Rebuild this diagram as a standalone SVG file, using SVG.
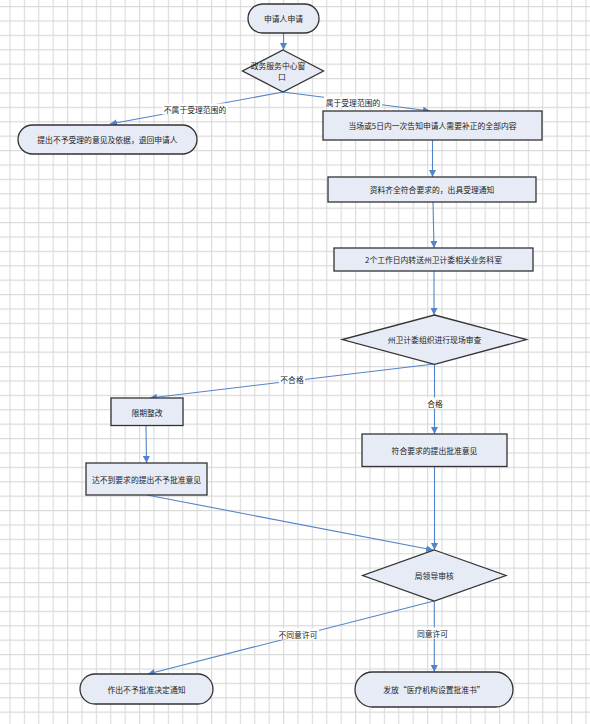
<svg xmlns="http://www.w3.org/2000/svg" width="590" height="724" viewBox="0 0 590 724">
<defs>
<pattern id="grid" patternUnits="userSpaceOnUse" x="9.4" y="6" width="14.4" height="14.4">
<path d="M0.6 0V14.4M0 0.6H14.4" stroke="#dadada" stroke-width="1.1" fill="none"/>
</pattern>
<marker id="arr" viewBox="0 0 10 10" refX="10" refY="5" markerWidth="7" markerHeight="7" markerUnits="userSpaceOnUse" orient="auto">
<path d="M0 0L10 5L0 10Z" fill="#5284c8"/>
</marker>
<style>
.n{fill:#e6ebf6;stroke:#333;stroke-width:1.3}
.t{font-family:"Noto Sans CJK SC","Noto Sans",sans-serif;font-size:7.8px;fill:#222;text-anchor:middle;dominant-baseline:central}
.c{fill:none;stroke:#5284c8;stroke-width:1.1;marker-end:url(#arr)}
.lb{fill:#fff}
</style>
</defs>
<rect width="590" height="724" fill="#fff"/>
<rect width="590" height="724" fill="url(#grid)"/>
<g id="connectors">
<path class="c" d="M283.5 33V50"/>
<path class="c" d="M283 92L110 124"/>
<path class="c" d="M283 92L430 111"/>
<path class="c" d="M432.5 140V177"/>
<path class="c" d="M433 202L434 248"/>
<path class="c" d="M434 271V315"/>
<path class="c" d="M434 364L150 398"/>
<path class="c" d="M434.5 364V434"/>
<path class="c" d="M146 426L146.5 463"/>
<path class="c" d="M147 495L433 550"/>
<path class="c" d="M434.5 467V550"/>
<path class="c" d="M434 601L148 674"/>
<path class="c" d="M434.3 601V672"/>
<rect class="lb" x="162" y="103.5" width="66" height="11"/>
<text class="t" x="195" y="109">不属于受理范围的</text>
<rect class="lb" x="324" y="96.5" width="58" height="11"/>
<text class="t" x="353" y="102">属于受理范围的</text>
<rect class="lb" x="279" y="374" width="26" height="11"/>
<text class="t" x="292" y="379.5">不合格</text>
<rect class="lb" x="426" y="397.5" width="18" height="11"/>
<text class="t" x="435" y="403">合格</text>
<rect class="lb" x="278" y="628.5" width="41" height="11"/>
<text class="t" x="298" y="634">不同意许可</text>
<rect class="lb" x="416" y="627.5" width="33" height="11"/>
<text class="t" x="432.5" y="633">同意许可</text>
</g>
<g id="start"><rect class="n" x="248" y="4" width="71" height="29" rx="14.5"/><text class="t" x="283.5" y="18.5">申请人申请</text></g>
<g id="window"><path class="n" d="M283 50L323.5 71L283 92L242.5 71Z"/><text class="t" x="278" y="65">政务服务中心窗</text><text class="t" x="282" y="76">口</text></g>
<g id="reject"><rect class="n" x="18" y="125" width="179" height="29" rx="14.5"/><text class="t" x="107.5" y="139.5">提出不予受理的意见及依据，退回申请人</text></g>
<g id="inform"><rect class="n" x="323" y="111" width="219" height="29"/><text class="t" x="432.5" y="125.5">当场或5日内一次告知申请人需要补正的全部内容</text></g>
<g id="accept"><rect class="n" x="328" y="177" width="208" height="25"/><text class="t" x="432" y="189.5">资料齐全符合要求的，出具受理通知</text></g>
<g id="transfer"><rect class="n" x="334" y="248" width="199" height="23"/><text class="t" x="433.5" y="259.5">2个工作日内转送州卫计委相关业务科室</text></g>
<g id="inspect"><path class="n" d="M434.5 315L526.5 339.6L434.5 364.3L342.3 339.6Z"/><text class="t" x="434.5" y="339.6">州卫计委组织进行现场审查</text></g>
<g id="rectify"><rect class="n" x="111" y="398" width="72" height="27.5"/><text class="t" x="147" y="412">限期整改</text></g>
<g id="notapprove"><rect class="n" x="86" y="463" width="121" height="32"/><text class="t" x="146.5" y="479">达不到要求的提出不予批准意见</text></g>
<g id="approve"><rect class="n" x="362" y="434" width="145" height="32.5"/><text class="t" x="434.5" y="450.5">符合要求的提出批准意见</text></g>
<g id="review"><path class="n" d="M434.3 550L506 575.5L434.3 601L362.7 575.5Z"/><text class="t" x="434.3" y="575.5">局领导审核</text></g>
<g id="denied"><rect class="n" x="80" y="674" width="133" height="30" rx="15"/><text class="t" x="146.5" y="689">作出不予批准决定通知</text></g>
<g id="issue"><rect class="n" x="355" y="672" width="158" height="35" rx="17.5"/><text class="t" x="434" y="689.5">发放“医疗机构设置批准书”</text></g>
</svg>
